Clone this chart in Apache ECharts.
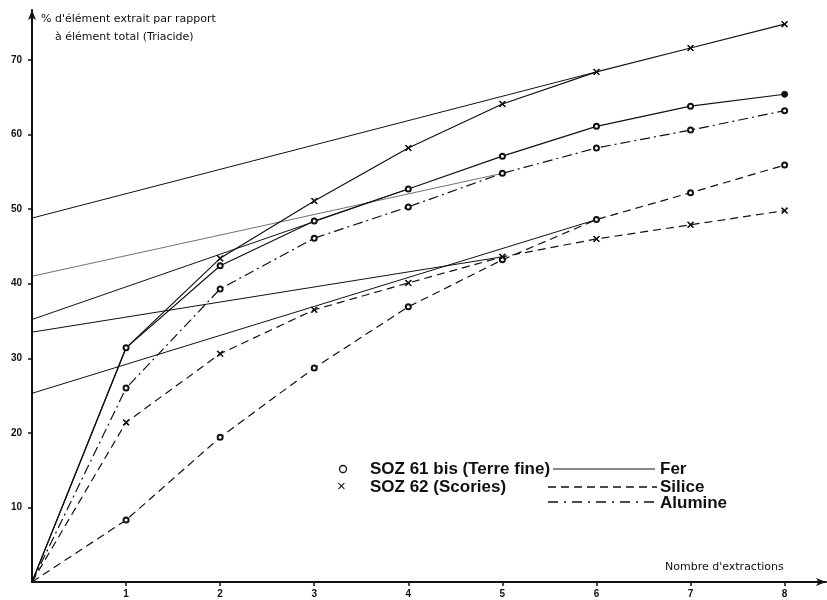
<!DOCTYPE html>
<html>
<head>
<meta charset="utf-8">
<script src="https://cdn.jsdelivr.net/npm/echarts@6/dist/echarts.min.js"></script>
<style>
  html, body { margin: 0; padding: 0; background: #fff; }
  #chart { width: 827px; height: 600px; }
</style>
</head>
<body>
<div id="chart"></div>
<script>
// nombre d'extractions
var extractions = [0, 1, 2, 3, 4, 5, 6, 7, 8];
// % d'élément extrait
var ferTerre = [0, 31.4, 42.4, 48.4, 52.7, 57.1, 61.1, 63.8, 65.4];
var ferScories = [0, 31.4, 43.4, 51.1, 58.2, 64.1, 68.4, 71.6, 74.8];
var siliceTerre = [0, 8.3, 19.4, 28.7, 36.9, 43.2, 48.6, 52.2, 55.9];
var siliceScories = [0, 21.4, 30.6, 36.5, 40.1, 43.6, 46.0, 47.9, 49.8];
var alumineTerre = [0, 26.0, 39.3, 46.1, 50.3, 54.8, 58.2, 60.6, 63.2];
// droites tracées depuis l'axe des ordonnées
var droites = [
    [[0, 48.8], [6, 68.4]],
    [[0, 41.0], [5, 54.8]],
    [[0, 35.2], [4, 52.7]],
    [[0, 33.5], [5, 43.6]],
    [[0, 25.3], [6, 48.6]]
];
var yTicks = [10, 20, 30, 40, 50, 60, 70];

var CROIX = 'path://M0,1L1,0L10,9L9,10Z M9,0L10,1L1,10L0,9Z';

function courbe(valeurs, dash, marque) {
    var data = extractions.map(function (x, i) {
        if (i === 0) return { value: [x, valeurs[i]], symbol: 'none' };
        return [x, valeurs[i]];
    });
    return {
        type: 'line',
        data: data,
        symbol: marque === 'x' ? CROIX : 'emptyCircle',
        symbolSize: marque === 'x' ? 6 : 5,
        itemStyle: { color: '#111', borderColor: '#111', borderWidth: 1 },
        lineStyle: { color: '#111', width: 1.2, type: dash },
        animation: false,
        silent: true
    };
}

var series = [];
droites.forEach(function (d, i) {
    series.push({
        type: 'line',
        data: d,
        symbol: 'none',
        lineStyle: { color: '#111', width: i === 1 ? 0.6 : 1 },
        animation: false,
        silent: true
    });
});

var fer1 = courbe(ferTerre, 'solid', 'o');
// dernier point plein
fer1.data[8] = { value: [8, ferTerre[8]], symbol: 'circle', symbolSize: 6 };
series.push(fer1);
var fer2 = courbe(ferScories, 'solid', 'x');
// point commun avec la terre fine : seul le cercle est dessiné
fer2.data[1] = { value: [1, ferScories[1]], symbol: 'none' };
series.push(fer2);
series.push(courbe(siliceTerre, [8, 5], 'o'));
series.push(courbe(siliceScories, [8, 5], 'x'));
series.push(courbe(alumineTerre, [10, 4, 2, 4], 'o'));

var txt = '#111';
var legendFont = 'bold 17px "Liberation Sans", Arial, sans-serif';
var smallFont = '11px "DejaVu Sans", sans-serif';

var chart = echarts.init(document.getElementById('chart'), null, { renderer: 'canvas' });
chart.setOption({
    backgroundColor: '#fff',
    animation: false,
    grid: { left: 32, right: 1, top: 10, bottom: 18 },
    xAxis: {
        type: 'value',
        min: 0,
        max: 8.44,
        interval: 1,
        splitLine: { show: false },
        axisLine: { lineStyle: { color: '#111', width: 2 }, symbol: ['none', 'arrow'], symbolSize: [6, 10] },
        axisTick: { length: 4, lineStyle: { color: '#111', width: 1.5 } },
        axisLabel: {
            showMinLabel: false, showMaxLabel: false,
            color: txt, margin: 7,
            fontFamily: 'Liberation Sans', fontWeight: 'bold', fontSize: 10
        }
    },
    yAxis: {
        type: 'value',
        min: 0,
        max: 76.7,
        interval: 10,
        splitLine: { show: false },
        axisLine: { lineStyle: { color: '#111', width: 2 }, symbol: ['none', 'arrow'], symbolSize: [6, 10] },
        axisTick: { length: 4, lineStyle: { color: '#111', width: 1.5 } },
        axisLabel: {
            showMinLabel: false, showMaxLabel: false,
            color: txt, margin: 10,
            fontFamily: 'Liberation Sans', fontWeight: 'bold', fontSize: 10,
            formatter: function (v) { return yTicks.indexOf(v) >= 0 ? v : ''; }
        }
    },
    graphic: [
        { type: 'text', left: 41, top: 14, style: { text: "% d'élément extrait par rapport", font: smallFont, fill: txt } },
        { type: 'text', left: 55, top: 32, style: { text: 'à élément total (Triacide)', font: smallFont, fill: txt } },
        { type: 'text', left: 665, top: 562, style: { text: "Nombre d'extractions", font: smallFont, fill: txt } },
        // légende
        { type: 'circle', shape: { cx: 343, cy: 469, r: 3.5 }, style: { fill: '#fff', stroke: txt, lineWidth: 1.3 } },
        { type: 'text', left: 337, top: 479, style: { text: '×', font: '15px "Liberation Sans", sans-serif', fill: txt } },
        { type: 'text', left: 370, top: 461, style: { text: 'SOZ 61 bis (Terre fine)', font: legendFont, fill: txt } },
        { type: 'text', left: 370, top: 479, style: { text: 'SOZ 62 (Scories)', font: legendFont, fill: txt } },
        { type: 'line', shape: { x1: 553, y1: 469, x2: 655, y2: 469 }, style: { stroke: txt, lineWidth: 1 } },
        { type: 'line', shape: { x1: 548, y1: 487, x2: 657, y2: 487 }, style: { stroke: txt, lineWidth: 1.3, lineDash: [8, 5] } },
        { type: 'line', shape: { x1: 548, y1: 502, x2: 655, y2: 502 }, style: { stroke: txt, lineWidth: 1.3, lineDash: [10, 6, 2, 6] } },
        { type: 'text', left: 660, top: 461, style: { text: 'Fer', font: legendFont, fill: txt } },
        { type: 'text', left: 660, top: 479, style: { text: 'Silice', font: legendFont, fill: txt } },
        { type: 'text', left: 660, top: 495, style: { text: 'Alumine', font: legendFont, fill: txt } }
    ],
    series: series
});
</script>
</body>
</html>
